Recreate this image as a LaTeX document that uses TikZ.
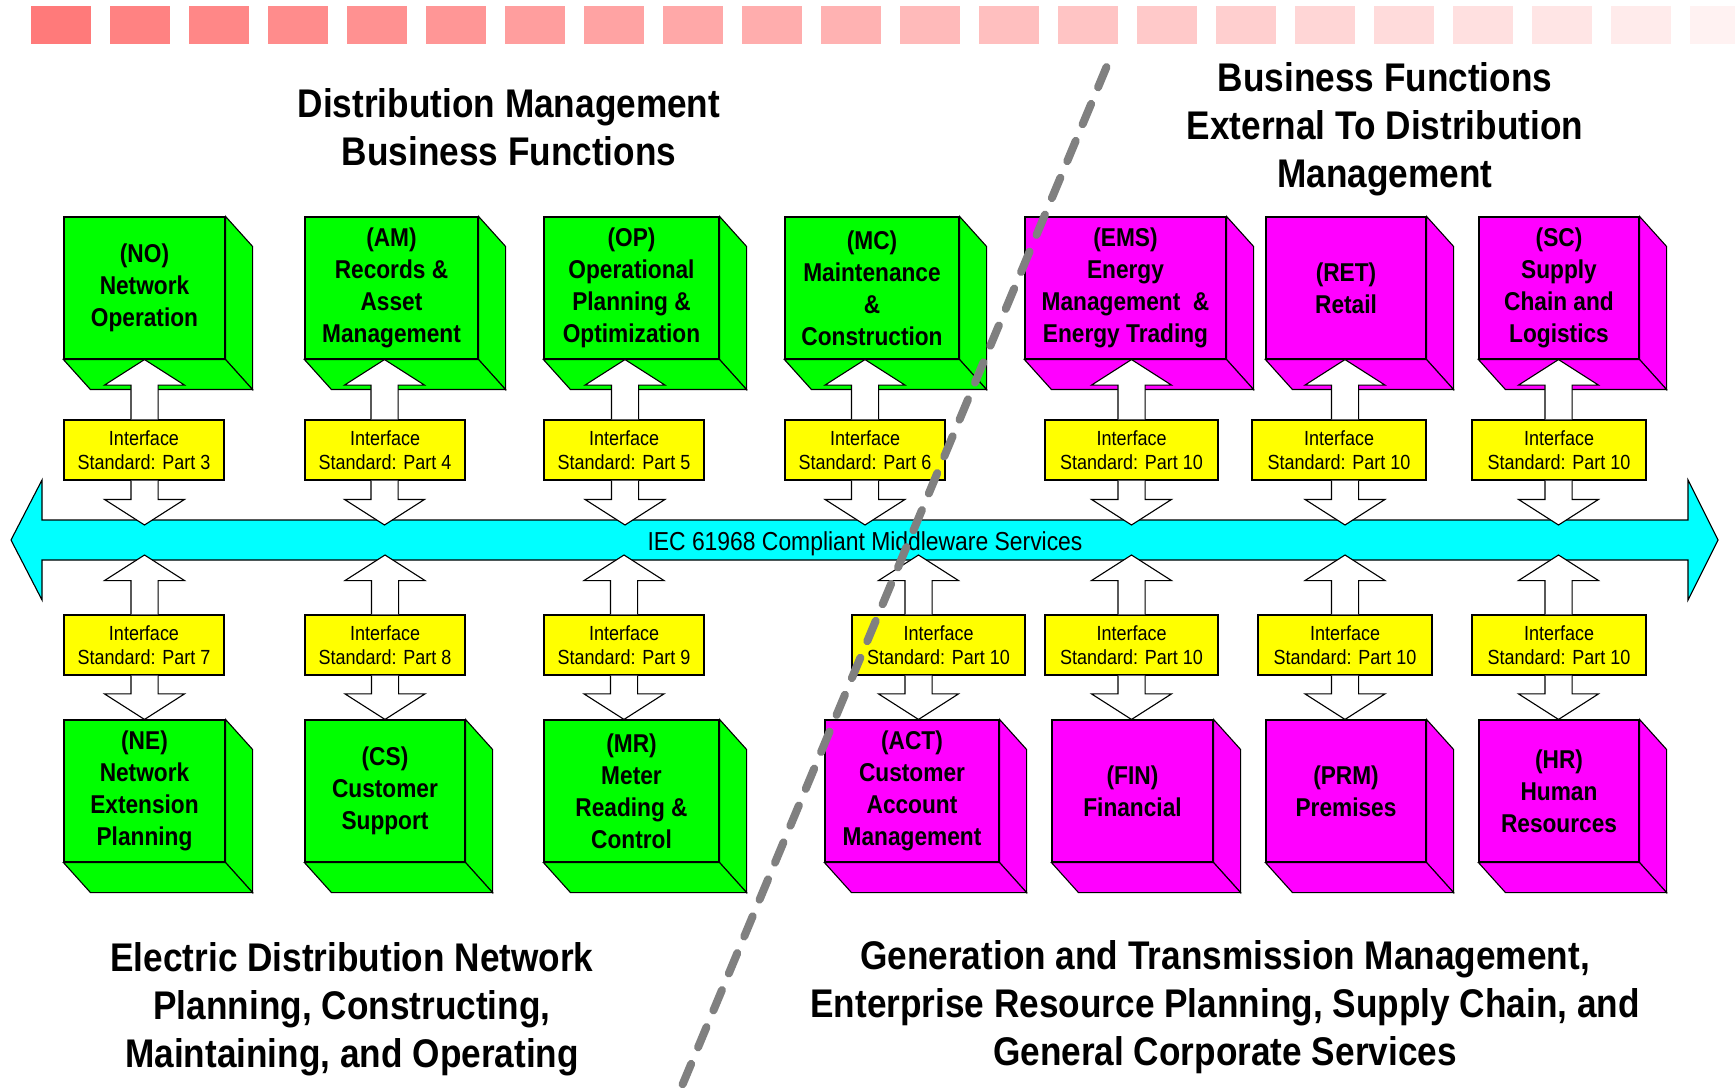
\documentclass[tikz,border=0pt]{standalone}
\usepackage{fontspec}
\setmainfont[FakeStretch=0.88]{Liberation Sans}
\usetikzlibrary{calc}

\definecolor{fmag}{RGB}{255,0,255}
\definecolor{fgreen}{RGB}{0,255,0}
\definecolor{fcyan}{RGB}{0,255,255}
\definecolor{fyellow}{RGB}{255,255,0}

\newcommand\headfont{\fontsize{18}{21.6}\selectfont\bfseries}
\newcommand\cubefont{\fontsize{11.6}{14.4}\selectfont\bfseries}
\newcommand\itffont{\fontsize{9.2}{10.9}\selectfont}
\newcommand\mwfont{\fontsize{11.7}{14}\selectfont}

% white block arrow: #1 base point, #2 tip point
\newcommand\blockarrow[2]{%
	\draw[barrow] let \p1=#1, \p2=#2, \p3=($#2!11.5pt!#1$) in
		(\x1-6.1pt,\y1) -- (\x1-6.1pt,\y3) -- (\x1-18pt,\y3) -- (\x2,\y2)
		-- (\x1+18pt,\y3) -- (\x1+6.1pt,\y3) -- (\x1+6.1pt,\y1);}

\tikzset{
	cube/.style = {draw, fill = #1, line width = 0.5pt, inner sep = 0pt, align = center, font = \cubefont, minimum height = 63.9pt},
	side/.style = {draw, fill = #1, line width = 0.5pt},
	itf/.style = {draw, fill = fyellow, line width = 0.5pt, inner sep = 0pt, align = center, font = \itffont, minimum height = 27pt},
	barrow/.style = {draw, fill = white, line width = 0.5pt},
	heading/.style = {align = center, font = \headfont},
	divider/.style = {draw = gray, line width = 3.6pt, line cap = round, dash pattern = on 9.9pt off 8.1pt}
}

\begin{document}
	\begin{tikzpicture}[x = 0.45pt, y = -0.45pt]
	\useasboundingbox (0, 0) rectangle (1735, 1091);
	% fading squares along the top
	\foreach \i [evaluate = \i as \sq using int(52-2.2*\i)] in {0,...,21}{
		\fill[red!\sq!white] ({31+79*\i}, 6) rectangle +(60, 38);}
	% headings
	\node[heading] (dmt) at (509, 127) {Distribution Management\\Business Functions};
	\node[heading] (ext) at (1385, 129.5) {Business Functions\\External To Distribution\\Management};
	\node[heading] (dnt) at (352, 1009.5) {Electric Distribution Network\\Planning, Constructing,\\Maintaining, and Operating};
	\node[heading] (gtt) at (1225, 1007.5) {Generation and Transmission Management,\\Enterprise Resource Planning, Supply Chain, and\\General Corporate Services};
	% middleware band
	\draw[fill = fcyan, line width = 0.5pt] (11, 540) -- (42, 480) -- (42, 520) -- (1688, 520) -- (1688, 480) -- (1718, 540)
		-- (1688, 600) -- (1688, 560) -- (42, 560) -- (42, 600) -- cycle;
	\node[font = \mwfont] (mw) at (865, 543.5) {IEC 61968 Compliant Middleware Services};
	\coordinate (bt) at (0, 525);
	\coordinate (bb) at (0, 555);
	% business function boxes
	\foreach \nd/\xa/\xb/\yc/\cl/\txt in {
		no/64/225/288/fgreen/{(NO)\\Network\\Operation},
		am/305/478/288/fgreen/{(AM)\\Records \&\\Asset\\Management},
		op/544/719/288/fgreen/{(OP)\\Operational\\Planning \&\\Optimization},
		mc/785/959/288/fgreen/{(MC)\\Maintenance\\\&\\Construction},
		ems/1025/1226/288/fmag/{(EMS)\\Energy\\Management \ \&\\Energy Trading},
		ret/1266/1426/288/fmag/{(RET)\\Retail},
		sc/1479/1639/288/fmag/{(SC)\\Supply\\Chain and\\Logistics},
		ne/64/225/791/fgreen/{(NE)\\Network\\Extension\\Planning},
		cs/305/465/791/fgreen/{(CS)\\Customer\\Support},
		mr/544/719/791/fgreen/{(MR)\\Meter\\Reading \&\\Control},
		act/825/999/791/fmag/{(ACT)\\Customer\\Account\\Management},
		fin/1052/1213/791/fmag/{(FIN)\\Financial},
		prm/1266/1426/791/fmag/{(PRM)\\Premises},
		hr/1479/1639/791/fmag/{(HR)\\Human\\Resources}}{
		\node[cube = \cl, minimum width = {(\xb-\xa)*0.45pt}] (\nd) at ({(\xa+\xb)/2}, \yc) {\txt};
		\draw[side = \cl] (\nd.north east) -- ++(27, 30) -- ([shift = {(27, 30)}]\nd.south east) -- (\nd.south east) -- cycle;
		\draw[side = \cl] (\nd.south west) -- ([shift = {(27, 30)}]\nd.south west) -- ([shift = {(27, 30)}]\nd.south east) -- (\nd.south east) -- cycle;}
	% interface standards
	\foreach \nd/\xa/\xb/\yc/\prt in {i3/64/224/450/3, i4/305/465/450/4, i5/544/704/450/5, i6/785/945/450/6,
		i10a/1045/1218/450/10, i10b/1252/1426/450/10, i10c/1472/1646/450/10,
		i7/64/224/645/7, i8/305/465/645/8, i9/544/704/645/9, i10d/852/1025/645/10,
		i10e/1045/1218/645/10, i10f/1258/1432/645/10, i10g/1472/1646/645/10}{
		\node[itf, minimum width = {(\xb-\xa)*0.45pt}] (\nd) at ({(\xa+\xb)/2}, \yc) {Interface\\Standard: Part \prt};}
	% arrows
	\foreach \nd/\itf/\ax in {no/i3/144.5, am/i4/384.5, op/i5/625, mc/i6/865, ems/i10a/1131.5, ret/i10b/1345, sc/i10c/1558.5}{
		\coordinate (c\nd) at (\ax, 0);
		\blockarrow{(c\nd |- \itf.north)}{(c\nd |- \nd.south)}
		\blockarrow{(c\nd |- \itf.south)}{(c\nd |- bt)}}
	\foreach \nd/\itf/\ax in {ne/i7/144.5, cs/i8/385, mr/i9/624, act/i10d/918.5, fin/i10e/1131.5, prm/i10f/1345, hr/i10g/1558.5}{
		\coordinate (c\nd) at (\ax, 0);
		\blockarrow{(c\nd |- \itf.north)}{(c\nd |- bb)}
		\blockarrow{(c\nd |- \itf.south)}{(c\nd |- \nd.north)}}
	% dividing line
	\draw[divider] (1106.5, 67) -- (678.6, 1094);
	\end{tikzpicture}
\end{document}
